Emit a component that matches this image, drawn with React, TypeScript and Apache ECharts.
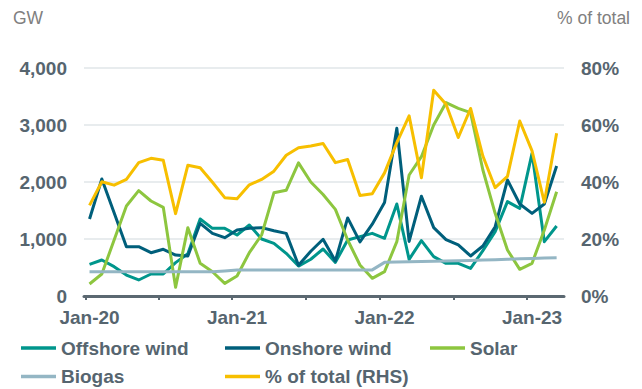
import React, { useEffect, useRef } from "react";
import * as echarts from "echarts";

// Monthly observations, Jan-20 to Mar-23
const months = [
  "Jan-20", "Feb-20", "Mar-20", "Apr-20", "May-20", "Jun-20", "Jul-20", "Aug-20", "Sep-20", "Oct-20", "Nov-20", "Dec-20",
  "Jan-21", "Feb-21", "Mar-21", "Apr-21", "May-21", "Jun-21", "Jul-21", "Aug-21", "Sep-21", "Oct-21", "Nov-21", "Dec-21",
  "Jan-22", "Feb-22", "Mar-22", "Apr-22", "May-22", "Jun-22", "Jul-22", "Aug-22", "Sep-22", "Oct-22", "Nov-22", "Dec-22",
  "Jan-23", "Feb-23", "Mar-23",
];

const xTickLabels = ["Jan-20", "Jan-21", "Jan-22", "Jan-23"];

// GW
const offshoreWind = [
  556, 632, 515, 368, 281, 386, 386, 585, 740, 1351, 1187, 1187,
  1070, 1246, 1000, 924, 749, 525, 645, 825, 590, 982, 1041, 1099,
  1012, 1614, 643, 971, 690, 573, 573, 485, 795, 1129, 1655, 1538,
  2503, 953, 1228,
];
const onshoreWind = [
  1351, 2053, 1460, 866, 866, 760, 819, 719, 702, 1275, 1100, 1023,
  1158, 1187, 1199, 1146, 1099, 540, 785, 995, 615, 1370, 950, 1260,
  1640, 2942, 957, 1750, 1200, 990, 895, 702, 877, 1216, 2035, 1614,
  1450, 1614, 2281,
];
const solar = [
  211, 386, 982, 1579, 1848, 1667, 1556, 152, 1199, 573, 426, 222,
  351, 760, 1070, 1810, 1855, 2335, 2000, 1780, 1520, 982, 544, 310,
  427, 953, 2123, 2444, 3000, 3392, 3292, 3216, 2211, 1450, 807, 468,
  573, 1158, 1830,
];
const biogas = [
  425, 425, 425, 425, 425, 425, 425, 425, 425, 425, 425, 440,
  458, 458, 458, 458, 458, 458, 458, 458, 458, 458, 458, 458,
  590, 595, 600, 604, 608, 612, 618, 624, 630, 636, 645, 652,
  660, 666, 672,
];
// % of total (right-hand scale)
const shareOfTotal = [
  31.8, 40.1, 38.9, 40.9, 46.8, 48.3, 47.6, 28.9, 45.9, 45.0, 39.9, 34.5,
  34.1, 39.0, 40.9, 43.8, 49.4, 52.0, 52.6, 53.5, 46.8, 47.9, 35.3, 35.9,
  43.2, 53.8, 63.2, 41.5, 72.2, 67.3, 55.6, 65.8, 49.1, 38.0, 42.0, 61.4,
  50.9, 32.9, 57.1,
];

const FONT = 'Arial, "Liberation Sans", sans-serif';
const TEXT = "#56656f";
const COLORS = {
  offshore: "#00968c",
  onshore: "#005f7b",
  solar: "#8dc63f",
  biogas: "#94b6c4",
  share: "#f7bf00",
};

const toPairs = (vals: number[]) => vals.map((v, i) => [i, v]);

export default function App() {
  const ref = useRef<HTMLDivElement>(null);

  useEffect(() => {
    if (!ref.current) return;
    const chart = echarts.init(ref.current, undefined, { renderer: "svg" });

    const legendItem = (name: string, left: number, top: number) => ({
      show: true,
      left,
      top,
      padding: 0,
      selectedMode: false,
      icon: "rect",
      itemWidth: 35,
      itemHeight: 3.5,
      data: [name],
      textStyle: { color: TEXT, fontSize: 19, fontWeight: "bold", fontFamily: FONT, lineHeight: 20 },
    });

    const line = (name: string, data: number[], color: string, yAxisIndex = 0) => ({
      name,
      type: "line",
      yAxisIndex,
      data: toPairs(data),
      symbol: "none",
      lineStyle: { color, width: 3, join: "round" },
      itemStyle: { color },
      emphasis: { disabled: true },
    });

    chart.setOption({
      animation: false,
      backgroundColor: "#ffffff",
      textStyle: { fontFamily: FONT },
      grid: { left: 84, right: 78, top: 68, bottom: 93 },
      xAxis: {
        type: "value",
        min: -0.45,
        max: 38.6,
        splitLine: { show: false },
        axisLine: { show: true, onZero: false, lineStyle: { color: "#5b6871", width: 3 } },
        axisTick: {
          show: true,
          customValues: [-0.3, 5.6, 11.6, 17.6, 23.6, 29.6, 35.6],
          length: 4,
          lineStyle: { color: "#5b6871", width: 2 },
        },
        axisLabel: {
          customValues: [0, 12, 24, 36],
          formatter: (v: number) => xTickLabels[Math.round(v / 12)] ?? months[Math.round(v)],
          color: TEXT,
          fontSize: 19,
          fontWeight: "bold",
          fontFamily: FONT,
          margin: 12,
        },
      },
      yAxis: [
        {
          type: "value",
          min: 0,
          max: 4000,
          interval: 1000,
          axisLine: { show: false },
          axisTick: { show: false },
          splitLine: { show: true, lineStyle: { color: "#e1e6e9", width: 1.5 } },
          axisLabel: {
            formatter: (v: number) => v.toLocaleString("en-US"),
            color: TEXT,
            fontSize: 19,
            fontWeight: "bold",
            fontFamily: FONT,
            margin: 17,
          },
        },
        {
          type: "value",
          min: 0,
          max: 80,
          interval: 20,
          position: "right",
          axisLine: { show: false },
          axisTick: { show: false },
          splitLine: { show: false },
          axisLabel: {
            formatter: "{value}%",
            color: TEXT,
            fontSize: 19,
            fontWeight: "bold",
            fontFamily: FONT,
            margin: 17,
          },
        },
      ],
      legend: [
        legendItem("Offshore wind", 21, 338),
        legendItem("Onshore wind", 225, 338),
        legendItem("Solar", 430, 338),
        legendItem("Biogas", 21, 366.5),
        legendItem("% of total (RHS)", 225, 366.5),
      ],
      graphic: [
        {
          type: "text",
          left: 13,
          top: 9,
          style: { text: "GW", fill: "#808080", fontSize: 17.5, fontFamily: FONT },
        },
        {
          type: "text",
          right: 12,
          top: 9,
          style: { text: "% of total", fill: "#808080", fontSize: 17.5, fontFamily: FONT },
        },
      ],
      series: [
        line("Offshore wind", offshoreWind, COLORS.offshore),
        line("Onshore wind", onshoreWind, COLORS.onshore),
        line("Solar", solar, COLORS.solar),
        line("Biogas", biogas, COLORS.biogas),
        line("% of total (RHS)", shareOfTotal, COLORS.share, 1),
      ],
    });

    return () => chart.dispose();
  }, []);

  return (
    <div
      ref={ref}
      style={{ position: "fixed", left: 0, top: 0, width: 642, height: 389, background: "#fff" }}
    />
  );
}
